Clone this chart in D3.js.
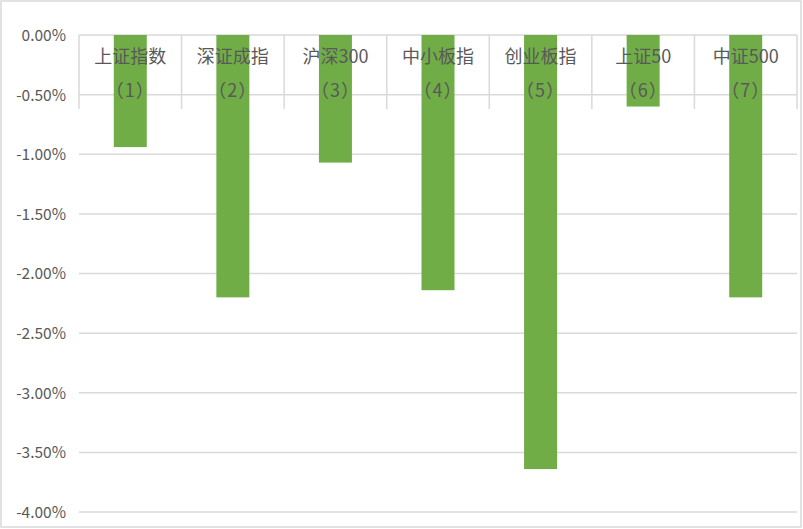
<!DOCTYPE html>
<html><head><meta charset="utf-8">
<script src="https://cdn.jsdelivr.net/npm/d3@7"></script>
<style>
html,body{margin:0;padding:0;background:#fff;}
svg{display:block;}
</style></head>
<body>
<svg id="chart" width="803" height="529"></svg>
<script>
const categories = ["上证指数", "深证成指", "沪深300", "中小板指", "创业板指", "上证50", "中证500"];
const subLabels = ["（1）", "（2）", "（3）", "（4）", "（5）", "（6）", "（7）"];
const values = [-0.94, -2.20, -1.07, -2.14, -3.64, -0.60, -2.20];
const yTicks = [0, -0.5, -1.0, -1.5, -2.0, -2.5, -3.0, -3.5, -4.0];

(function () {
const svg = d3.select("#chart");
const pLeft = 79, pRight = 797, pTop = 35, pBottom = 512;
const font = "'Noto Sans CJK SC','Microsoft YaHei',sans-serif";
const grey = "#595959", lineC = "#D9D9D9";

// outer border
svg.append("rect").attr("x", 1).attr("y", 1).attr("width", 800).attr("height", 526)
  .attr("fill", "#fff").attr("stroke", lineC).attr("stroke-width", 1.5);

const x = d3.scaleBand().domain(categories).range([pLeft, pRight]).paddingInner(0).paddingOuter(0);
const y = d3.scaleLinear().domain([0, -4]).range([pTop, pBottom]);

// gridlines
svg.append("g").selectAll("line").data(yTicks).join("line")
  .attr("x1", pLeft).attr("x2", pRight)
  .attr("y1", d => y(d)).attr("y2", d => y(d))
  .attr("stroke", lineC).attr("stroke-width", 1.5);

// y axis labels
const yAxis = d3.axisLeft(y).tickValues(yTicks).tickSize(0).tickPadding(0)
  .tickFormat(d => d.toFixed(2) + "%");
const ya = svg.append("g").attr("transform", `translate(66,0)`).call(yAxis);
ya.select(".domain").remove();
ya.selectAll("text").attr("fill", grey).style("font-family", font).style("font-size", "15.5px")
  .attr("dy", "0.35em");

// category separators
const seps = categories.map(c => x(c)).concat([pRight]);
svg.append("g").selectAll("line").data(seps).join("line")
  .attr("x1", d => d).attr("x2", d => d)
  .attr("y1", y(0)).attr("y2", 109)
  .attr("stroke", lineC).attr("stroke-width", 1.5);

// bars
const bw = 33;
svg.append("g").selectAll("rect").data(values).join("rect")
  .attr("x", (d, i) => x(categories[i]) + x.bandwidth() / 2 - bw / 2)
  .attr("y", d => y(0))
  .attr("width", bw)
  .attr("height", d => y(d) - y(0))
  .attr("fill", "#70AD47");

// category labels (drawn over bars)
const lab = svg.append("g");
lab.selectAll("text.l1").data(categories).join("text").attr("class", "l1")
  .attr("x", d => x(d) + x.bandwidth() / 2).attr("y", 57).attr("dy", "0.35em")
  .attr("text-anchor", "middle").attr("fill", grey)
  .style("font-family", font).style("font-size", "18px").text(d => d);
lab.selectAll("text.l2").data(subLabels).join("text").attr("class", "l2")
  .attr("x", (d, i) => x(categories[i]) + x.bandwidth() / 2).attr("y", 91).attr("dy", "0.35em")
  .attr("text-anchor", "middle").attr("fill", grey)
  .style("font-family", font).style("font-size", "18px").style("letter-spacing", "1px").text(d => d);
})();
</script>
</body></html>
